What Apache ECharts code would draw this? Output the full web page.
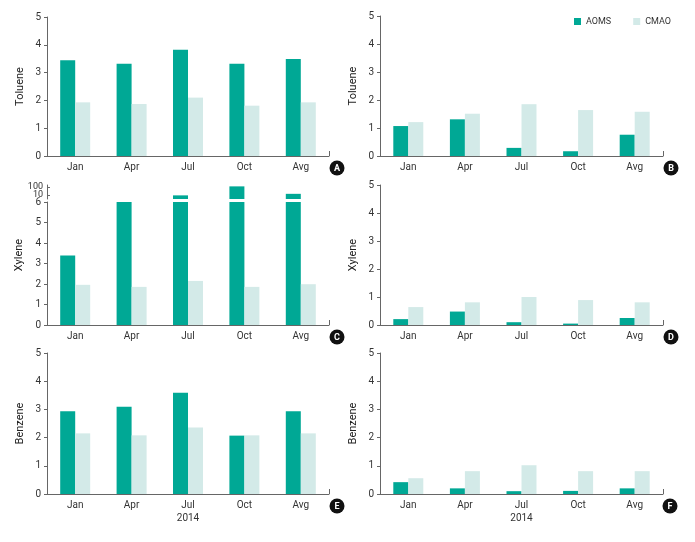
<!DOCTYPE html>
<html><head><meta charset="utf-8">
<script src="https://cdn.jsdelivr.net/npm/echarts@6/dist/echarts.min.js"></script>
<style>html,body{margin:0;padding:0;background:#fff}#c{width:695px;height:542px}</style>
</head><body><div id="c"></div>
<script>
const categories = ['Jan', 'Apr', 'Jul', 'Oct', 'Avg'];
const seriesNames = ['AOMS', 'CMAO'];
const linearMax = 5;
const xyleneLowerMax = 6;
const xyleneUpperTicks = [10, 100];
const tolueneA_AOMS = [3.44, 3.32, 3.82, 3.32, 3.49];
const tolueneA_CMAO = [1.93, 1.87, 2.10, 1.81, 1.93];
const tolueneB_AOMS = [1.07, 1.31, 0.29, 0.17, 0.76];
const tolueneB_CMAO = [1.21, 1.51, 1.85, 1.64, 1.58];
const xyleneC_AOMS = [3.39, 6.0, 9, 120, 14];
const xyleneC_CMAO = [1.96, 1.86, 2.15, 1.86, 1.99];
const xyleneD_AOMS = [0.21, 0.48, 0.10, 0.05, 0.25];
const xyleneD_CMAO = [0.64, 0.81, 1.00, 0.89, 0.81];
const benzeneE_AOMS = [2.93, 3.09, 3.59, 2.07, 2.93];
const benzeneE_CMAO = [2.15, 2.08, 2.36, 2.08, 2.15];
const benzeneF_AOMS = [0.42, 0.20, 0.10, 0.11, 0.20];
const benzeneF_CMAO = [0.56, 0.81, 1.02, 0.81, 0.81];

const COL_A = '#00a895';
const COL_C = '#d3eae8';
const FONT = "'Liberation Sans Narrow', 'Roboto', sans-serif";
const axisCol = '#666';

const panels = [
  {key:'A', left:47, top:17, w:282, h:139, name:'Toluene', a:tolueneA_AOMS, c:tolueneA_CMAO},
  {key:'B', left:380, top:16, w:283, h:140, name:'Toluene', a:tolueneB_AOMS, c:tolueneB_CMAO},
  {key:'C', left:47, top:202, w:282, h:123, name:'Xylene', a:xyleneC_AOMS, c:xyleneC_CMAO, broken:true},
  {key:'D', left:380, top:185, w:283, h:140, name:'Xylene', a:xyleneD_AOMS, c:xyleneD_CMAO},
  {key:'E', left:47, top:353, w:282, h:141, name:'Benzene', a:benzeneE_AOMS, c:benzeneE_CMAO, xname:'2014'},
  {key:'F', left:380, top:353, w:283, h:141, name:'Benzene', a:benzeneF_AOMS, c:benzeneF_CMAO, xname:'2014'}
];

const grid = [], xAxis = [], yAxis = [], series = [], graphic = [];
const labelStyle = {fontFamily: FONT, fontSize: 10, color: '#333'};

panels.forEach(p => {
  const gi = grid.length;
  grid.push({left: p.left, top: p.top, width: p.w, height: p.h});
  const xi = xAxis.length;
  xAxis.push({
    type: 'category', gridIndex: gi, data: categories, boundaryGap: true,
    axisLine: {lineStyle: {color: axisCol, width: 1}},
    axisTick: {show: false},
    axisLabel: Object.assign({margin: 6}, labelStyle),
    name: p.xname || '', nameLocation: 'middle', nameGap: 19,
    nameTextStyle: {fontFamily: FONT, fontSize: 10, color: '#333'}
  });
  const maxV = p.broken ? xyleneLowerMax : linearMax;
  const yi = yAxis.length;
  yAxis.push({
    type: 'value', gridIndex: gi, min: 0, max: maxV, interval: 1,
    splitLine: {show: false},
    axisLine: {show: true, lineStyle: {color: axisCol, width: 1}},
    axisTick: {show: true, length: 3, lineStyle: {color: axisCol}},
    axisLabel: Object.assign({margin: 6}, labelStyle),
    name: p.broken ? '' : p.name, nameLocation: 'middle', nameGap: 21,
    nameTextStyle: {fontFamily: FONT, fontSize: 11, color: '#222'}
  });
  const aData = p.broken ? p.a.map(v => Math.min(v, xyleneLowerMax)) : p.a;
  series.push({name: 'AOMS', type: 'bar', xAxisIndex: xi, yAxisIndex: yi, data: aData,
    barWidth: 15, barGap: '0%', itemStyle: {color: COL_A}, clip: true, silent: true});
  series.push({name: 'CMAO', type: 'bar', xAxisIndex: xi, yAxisIndex: yi, data: p.c,
    barWidth: 15, barGap: '0%', itemStyle: {color: COL_C}, clip: true, silent: true});

  if (p.broken) {
    const ui = grid.length;
    grid.push({left: p.left, top: 185, width: p.w, height: 14});
    const uxi = xAxis.length;
    xAxis.push({type: 'category', gridIndex: ui, data: categories, show: false});
    const uyi = yAxis.length;
    // one log axis per tick label so both labels survive overlap hiding
    xyleneUpperTicks.forEach((t, k) => {
      yAxis.push({
        type: 'log', gridIndex: ui, logBase: 10, min: 3.16, max: 178, position: 'left', offset: 0,
        splitLine: {show: false},
        axisLine: {show: k === 0, lineStyle: {color: axisCol, width: 1}},
        axisTick: {show: true, inside: true, length: 3, customValues: [t], lineStyle: {color: axisCol}},
        axisLabel: Object.assign({}, labelStyle, {margin: 4, customValues: [t], fontSize: 9,
          showMinLabel: true, showMaxLabel: true})
      });
    });
    series.push({name: 'AOMS', type: 'bar', xAxisIndex: uxi, yAxisIndex: uyi,
      data: p.a.map(v => v > xyleneLowerMax ? v : '-'),
      barWidth: 15, barGap: '0%', itemStyle: {color: COL_A}, clip: true, silent: true});
    series.push({name: 'CMAO', type: 'bar', xAxisIndex: uxi, yAxisIndex: uyi,
      data: p.c.map(() => '-'),
      barWidth: 15, barGap: '0%', itemStyle: {color: COL_C}, clip: true, silent: true});
    graphic.push({type: 'text', rotation: Math.PI / 2, x: 19, y: 255,
      style: {text: p.name, font: '11px ' + FONT, fill: '#222', align: 'center', verticalAlign: 'middle'}});
  }
  // right-end upward tick of the x axis
  const by = p.top + p.h;
  graphic.push({type: 'line', shape: {x1: p.left + p.w + 0.5, y1: by - 5, x2: p.left + p.w + 0.5, y2: by},
    style: {stroke: axisCol, lineWidth: 1}});
  // panel letter badge
  const cx = p.left + p.w + 8 - (p.key === 'F' ? 1 : 0);
  const cy = by + 12;
  graphic.push({type: 'circle', shape: {cx: cx, cy: cy, r: 7.5}, style: {fill: '#111'}});
  graphic.push({type: 'text', x: cx, y: cy + 0.5,
    style: {text: p.key, font: 'bold 9px ' + FONT, fill: '#fff', align: 'center', verticalAlign: 'middle'}});
});

const chart = echarts.init(document.getElementById('c'), null, {renderer: 'canvas'});
chart.setOption({
  animation: false,
  backgroundColor: '#fff',
  legend: {
    data: seriesNames, left: 569, top: 12, itemWidth: 7, itemHeight: 7, itemGap: 22,
    icon: 'rect', textStyle: {fontFamily: FONT, fontSize: 9, color: '#333'}
  },
  grid: grid, xAxis: xAxis, yAxis: yAxis, series: series, graphic: graphic
});
</script></body></html>
